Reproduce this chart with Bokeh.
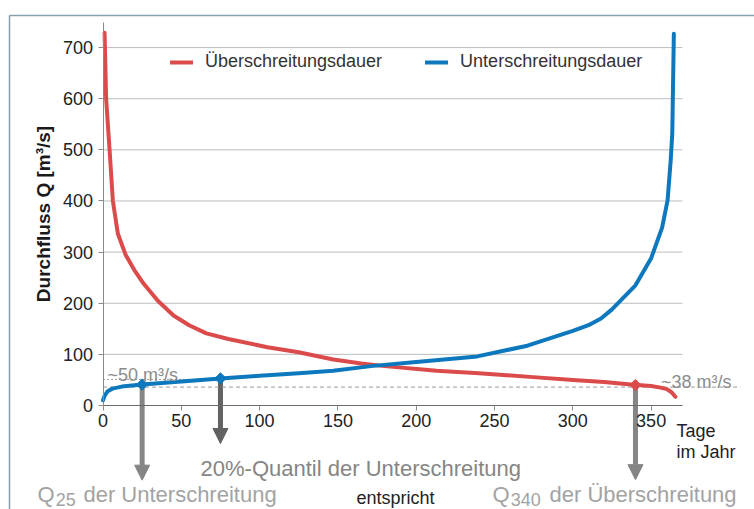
from math import pi
from bokeh.plotting import figure
from bokeh.models import (Range1d, FixedTicker, Legend, LegendItem, Label, Arrow, NormalHead,
                          LinearAxis)
from bokeh.embed import file_html
from bokeh.resources import INLINE

# ---------------- data ----------------
ueber_days = [1, 2, 4.2, 6.3, 9.5, 14.4, 20, 26, 35, 45, 55, 66, 80, 105, 125, 147, 165,
              180, 213, 240, 277, 300, 320, 337, 350, 356, 360, 363, 365.5]
ueber_q = [729, 600, 500, 400, 336, 295, 265, 238, 205, 176, 157, 141, 130, 114, 104, 90, 82,
           77, 68, 63, 55, 50, 46, 41, 38, 35, 32, 26, 17]

unter_days = [0, 1, 3, 6, 12, 25, 50, 75, 100, 125, 147, 171, 200, 239, 271, 300, 310, 318,
              325, 332, 340, 350, 357, 360.5, 362.5, 363.5, 364.5]
unter_q = [10, 19, 28, 33, 37, 41, 47, 53, 58, 63, 68, 77, 85, 96, 117, 146, 157, 170,
           188, 210, 235, 288, 348, 401, 480, 532, 727]

x_ticks = [0, 50, 100, 150, 200, 250, 300, 350]
y_ticks = [0, 100, 200, 300, 400, 500, 600, 700]
grid_vals = [100, 200, 300, 400, 500, 600, 700]

unter_mark_days = [25, 75]      # Q25 and 20%-quantile of Unterschreitung
unter_mark_q = [41, 53]
ueber_mark_days = [340]         # Q340 of Überschreitung
ueber_mark_q = [40]

ref_q = [51, 36]                # ~50 m³/s and ~38 m³/s
ref_labels = ["~50 m³/s", "~38 m³/s"]

legend_labels = ["Überschreitungsdauer", "Unterschreitungsdauer"]

# ---------------- styles ----------------
RED = "#dc4b4b"
BLUE = "#0d78bd"
FONT = "Liberation Sans"
GRID = "#bdbdbd"
ARROW_GREY = "#858585"
ARROW_DARK = "#626262"
TEXT_GREY = "#858585"
TEXT_LIGHT = "#a3a3a3"
FRAME_COL = "#86a1ad"

# the plotting frame fills the whole canvas; axes are pinned at x=0 / y=0
p = figure(width=754, height=509, output_backend="svg", toolbar_location=None,
           x_range=Range1d(-65.45, 416.0), y_range=Range1d(-203.4, 792.1),
           x_axis_location=None, y_axis_location=None, min_border=0)
p.outline_line_color = None
p.xgrid.visible = False
p.ygrid.visible = False

xa = LinearAxis(fixed_location=0, ticker=FixedTicker(ticks=x_ticks), bounds=(0, 370))
xa.axis_line_color = "#6a6a6a"
xa.major_tick_line_color = "#8a8a8a"
xa.major_tick_in = 0
xa.major_tick_out = 5
xa.minor_tick_line_color = None
xa.major_label_text_font = FONT
xa.major_label_text_font_size = "18px"
xa.major_label_text_color = "#222222"
xa.major_label_standoff = 3
p.add_layout(xa, "below")

ya = LinearAxis(fixed_location=0, ticker=FixedTicker(ticks=y_ticks), bounds=(0, 749))
ya.axis_line_color = "#8a8a8a"
ya.major_tick_line_color = "#8a8a8a"
ya.major_tick_in = 0
ya.major_tick_out = 5
ya.minor_tick_line_color = None
ya.major_label_text_font = FONT
ya.major_label_text_font_size = "18px"
ya.major_label_text_color = "#222222"
ya.major_label_standoff = 5
ya.axis_label = "Durchfluss Q [m³/s]"
ya.axis_label_text_font = FONT
ya.axis_label_text_font_style = "bold"
ya.axis_label_text_font_size = "19px"
ya.axis_label_text_color = "#1a1a1a"
ya.axis_label_standoff = 6
p.add_layout(ya, "left")

# gridlines (only up to day 370)
p.segment(x0=[0] * len(grid_vals), x1=[370] * len(grid_vals), y0=grid_vals, y1=grid_vals,
          line_color=GRID, line_width=1, level="underlay")

# reference dashed lines
p.segment(x0=[0], x1=[75], y0=ref_q[:1], y1=ref_q[:1], line_color="#9a9a9a",
          line_width=1, line_dash="2 2")
p.segment(x0=[0], x1=[407], y0=ref_q[1:], y1=ref_q[1:], line_color="#9a9a9a",
          line_width=1, line_dash="4 3")

# arrows (underneath curves)
arrow_specs = [(unter_mark_days[0], unter_mark_q[0], -146, ARROW_GREY),
               (unter_mark_days[1], unter_mark_q[1], -74.3, ARROW_DARK),
               (ueber_mark_days[0], ueber_mark_q[0], -145, ARROW_GREY)]
for xd, ys, ye, col in arrow_specs:
    p.add_layout(Arrow(end=NormalHead(size=15, fill_color=col, line_color=col, line_width=1),
                       x_start=xd, y_start=ys, x_end=xd, y_end=ye,
                       line_color=col, line_width=5, level="underlay"))

r_red = p.line(ueber_days, ueber_q, line_color=RED, line_width=4,
               line_join="round", line_cap="round")
r_blue = p.line(unter_days, unter_q, line_color=BLUE, line_width=4,
                line_join="round", line_cap="round")

p.scatter(unter_mark_days, unter_mark_q, marker="square", angle=pi / 4, size=8,
          fill_color=BLUE, line_color=BLUE)
p.scatter(ueber_mark_days, ueber_mark_q, marker="square", angle=pi / 4, size=8,
          fill_color=RED, line_color=RED)

# legend
legend = Legend(items=[LegendItem(label=legend_labels[0], renderers=[r_red]),
                       LegendItem(label=legend_labels[1], renderers=[r_blue])],
                orientation="horizontal", location=(170, 437), padding=0, margin=0,
                spacing=43, glyph_width=23, glyph_height=20, label_standoff=12,
                label_text_font=FONT, label_text_font_size="18px",
                label_text_color="#333333", background_fill_alpha=0,
                border_line_color=None)
p.add_layout(legend)


def lab(x, y, text, size, color, style="normal"):
    p.add_layout(Label(x=x, y=y, text=text, text_font=FONT, text_font_size=size,
                       text_color=color, text_baseline="alphabetic", text_align="left",
                       text_font_style=style))


# reference line labels
lab(2.9, 58.7, ref_labels[0], "18px", "#8c8c8c")
lab(356.3, 45.6, ref_labels[1], "18px", "#8c8c8c")

# x axis title
lab(366.2, -48.9, "Tage", "18px", "#222222")
lab(366.2, -90, "im Jahr", "18px", "#222222")

# explanation texts
lab(62.3, -123.2, "20%-Quantil der Unterschreitung", "22px", TEXT_GREY)
lab(-41.8, -175, "Q", "22px", TEXT_LIGHT)
lab(-30.2, -184.5, "25", "18px", TEXT_LIGHT)
lab(-12.5, -175, "der Unterschreitung", "22px", TEXT_LIGHT)
lab(161.9, -180.5, "entspricht", "18px", "#222222")
lab(248.7, -175, "Q", "22px", TEXT_LIGHT)
lab(260.4, -184.5, "340", "18px", TEXT_LIGHT)
lab(285.1, -175, "der Überschreitung", "22px", TEXT_LIGHT)

# outer frame lines (top and left edges of the graphic box)
p.segment(x0=[-59.7, -59.7], y0=[762.8, 762.8], x1=[416.0, -59.7], y1=[762.8, -203.4],
          line_color=FRAME_COL, line_width=1.5)

open("out.html", "w").write(file_html(p, INLINE))
